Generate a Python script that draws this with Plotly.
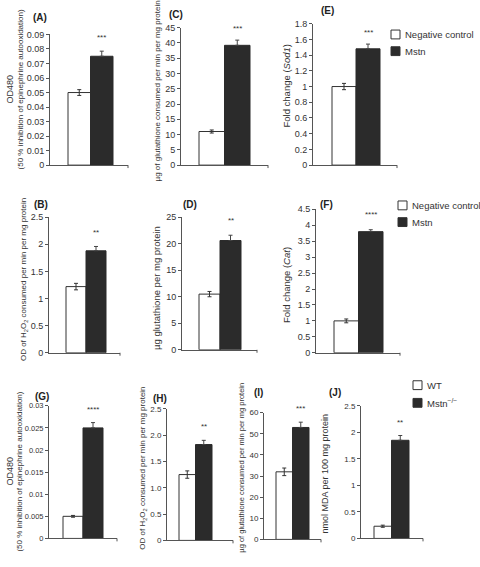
import plotly.graph_objects as go

# ---------------- data ----------------
panel_letters = ["A", "C", "E", "B", "D", "F", "G", "H", "I", "J"]
control_values = [0.050, 11.0, 1.00, 1.22, 10.5, 1.00, 0.0050, 1.25, 32.0, 0.23]
control_errors = [0.002, 0.5, 0.04, 0.06, 0.5, 0.06, 0.0002, 0.07, 1.8, 0.02]
treated_values = [0.075, 39.2, 1.48, 1.88, 20.6, 3.80, 0.0250, 1.82, 53.0, 1.85]
treated_errors = [0.0035, 1.7, 0.06, 0.08, 1.0, 0.06, 0.0012, 0.08, 2.5, 0.09]
significance = ["***", "***", "***", "**", "**", "****", "****", "**", "***", "**"]
y_max = [0.09, 45, 1.8, 2.5, 25, 4.5, 0.03, 2.5, 60, 2.5]
y_dtick = [0.01, 5, 0.2, 0.5, 5, 0.5, 0.005, 0.5, 10, 0.5]
h_tick_text = ["0", "0.5", "1.0", "1.5", "2.0", "2.5"]
y_titles = [
    None,
    "µg of glutathione consumed per min per mg protein",
    "Fold change (<i>Sod1</i>)",
    "OD of H<sub>2</sub>O<sub>2</sub> consumed per min per mg protein",
    "µg glutathione per mg protein",
    "Fold change (<i>Cat</i>)",
    None,
    "OD of H<sub>2</sub>O<sub>2</sub> consumed per min per mg protein",
    "µg of glutathione consumed per min per mg protein",
    "nmol MDA per 100 mg protein",
]
od_title_line1 = "OD480"
od_title_line2 = "(50 % inhibition of epinephrine autooxidation)"
legend_rows = [["Negative control", "Mstn"], ["Negative control", "Mstn"], ["WT", "Mstn<sup>−/−</sup>"]]

# ---------------- layout geometry (pixels) ----------------
W, H = 480, 567
geom = [
    dict(al=50, ar=128, t=30, b=163, bl=68, br=113, lab=(40, 13), tt=(15, 86, 8), st=33, fs=9),
    dict(al=181, ar=268, t=23, b=163, bl=199, br=250, lab=(176, 10), tt=(157, 88, 8), st=24, fs=9),
    dict(al=313, ar=397, t=19, b=163, bl=332, br=380, lab=(327, 6), tt=(287, 83, 9.5), st=28, fs=9),
    dict(al=49, ar=120, t=216, b=354, bl=66, br=106, lab=(41, 203), tt=(24, 280, 8), st=232, fs=9),
    dict(al=182, ar=257, t=216, b=351, bl=199, br=241, lab=(190, 203), tt=(157, 288, 9.5), st=219, fs=9),
    dict(al=316, ar=400, t=208, b=354, bl=334, br=383, lab=(326, 203), tt=(287, 285, 9.5), st=213, fs=9),
    dict(al=49, ar=117, t=408, b=543, bl=63, br=103, lab=(42, 399), tt=(15, 475, 8), st=412, fs=7.5),
    dict(al=167, ar=233, t=411, b=545, bl=179, br=212, lab=(160, 401), tt=(143, 472, 8), st=429, fs=8),
    dict(al=264, ar=321, t=415, b=544, bl=276, br=309, lab=(258, 394), tt=(242, 471, 7.5), st=411, fs=8),
    dict(al=361, ar=423, t=408, b=543, bl=374, br=409, lab=(335, 394), tt=(325, 477, 9), st=425, fs=8),
]
legend_geom = [(391, 30, 47), (398, 204, 221), (413, 387, 405)]

FONT = "Liberation Sans, Arial, sans-serif"
TXT = "#333333"
AX = "#555555"
DARK = "#2b2b2b"


def px(x):
    return x / W


def py(y):
    return 1 - y / H


fig = go.Figure()
annotations = []
shapes = []
layout_axes = {}

for i, letter in enumerate(panel_letters):
    g = geom[i]
    n = i + 1
    xa = "x" if n == 1 else f"x{n}"
    ya = "y" if n == 1 else f"y{n}"
    xkey = "xaxis" if n == 1 else f"xaxis{n}"
    ykey = "yaxis" if n == 1 else f"yaxis{n}"

    bw = (g["br"] - g["bl"]) / 2.0
    c0 = g["bl"] + bw / 2.0
    xr = [(g["al"] - c0) / bw, (g["ar"] - c0) / bw]

    fig.add_trace(go.Bar(
        x=[0], y=[control_values[i]], width=[1], xaxis=xa, yaxis=ya,
        marker=dict(color="white", line=dict(color="#333333", width=1)),
        error_y=dict(type="data", array=[control_errors[i]], arrayminus=[control_errors[i]],
                     color="#333333", thickness=1, width=2),
        showlegend=False, hoverinfo="skip",
    ))
    fig.add_trace(go.Bar(
        x=[1], y=[treated_values[i]], width=[1], xaxis=xa, yaxis=ya,
        marker=dict(color=DARK, line=dict(color=DARK, width=1)),
        error_y=dict(type="data", symmetric=False, array=[treated_errors[i]], arrayminus=[0],
                     color="#444444", thickness=1, width=2),
        showlegend=False, hoverinfo="skip",
    ))

    layout_axes[xkey] = dict(
        domain=[px(g["al"]), px(g["ar"])], range=xr, anchor=ya,
        showgrid=False, zeroline=False, showline=True, linecolor=AX, linewidth=1,
        ticks="", showticklabels=False, fixedrange=True,
    )
    yax = dict(
        domain=[py(g["b"]), py(g["t"])], range=[0, y_max[i]], anchor=xa,
        showgrid=False, zeroline=False, showline=True, linecolor=AX, linewidth=1,
        ticks="outside", ticklen=3, tickcolor=AX, dtick=y_dtick[i], tick0=0,
        tickfont=dict(family=FONT, size=g["fs"], color=TXT), fixedrange=True,
    )
    if letter == "H":
        yax["tickvals"] = [0, 0.5, 1.0, 1.5, 2.0, 2.5]
        yax["ticktext"] = h_tick_text
    layout_axes[ykey] = yax

    # small end tick on the category axis
    shapes.append(dict(type="line", xref="paper", yref="paper",
                       x0=px(g["ar"]), x1=px(g["ar"]), y0=py(g["b"]), y1=py(g["b"] + 3),
                       line=dict(color=AX, width=1)))

    annotations.append(dict(
        x=px(g["lab"][0]), y=py(g["lab"][1]), xref="paper", yref="paper",
        text=f"<b>({letter})</b>", showarrow=False, xanchor="center", yanchor="middle",
        font=dict(family=FONT, size=10, color="#222222"),
    ))
    annotations.append(dict(
        x=1, xref=xa, y=py(g["st"]), yref="paper", text=significance[i], showarrow=False,
        xanchor="center", yanchor="middle", font=dict(family=FONT, size=8, color=TXT),
    ))
    tx, ty, ts = g["tt"]
    if y_titles[i] is None:
        annotations.append(dict(
            x=px(tx - 5), y=py(ty), xref="paper", yref="paper", text=od_title_line1,
            showarrow=False, textangle=-90, xanchor="center", yanchor="middle",
            font=dict(family=FONT, size=ts + 1, color=TXT),
        ))
        annotations.append(dict(
            x=px(tx + 5), y=py(ty), xref="paper", yref="paper", text=od_title_line2,
            showarrow=False, textangle=-90, xanchor="center", yanchor="middle",
            font=dict(family=FONT, size=ts, color=TXT),
        ))
    else:
        annotations.append(dict(
            x=px(tx), y=py(ty), xref="paper", yref="paper", text=y_titles[i],
            showarrow=False, textangle=-90, xanchor="center", yanchor="middle",
            font=dict(family=FONT, size=ts, color=TXT),
        ))

# legends
for (lx, y1, y2), names in zip(legend_geom, legend_rows):
    for yy, name, fill in [(y1, names[0], "white"), (y2, names[1], DARK)]:
        shapes.append(dict(type="rect", xref="paper", yref="paper",
                           x0=px(lx), x1=px(lx + 9), y0=py(yy + 4.5), y1=py(yy - 4.5),
                           fillcolor=fill, line=dict(color="#333333", width=1)))
        annotations.append(dict(
            x=px(lx + 12), y=py(yy), xref="paper", yref="paper", text=name,
            showarrow=False, xanchor="left", yanchor="middle",
            font=dict(family=FONT, size=9.5, color=TXT),
        ))

fig.update_layout(
    width=W, height=H, margin=dict(l=0, r=0, t=0, b=0),
    paper_bgcolor="white", plot_bgcolor="white",
    barmode="overlay", showlegend=False,
    annotations=annotations, shapes=shapes,
    **layout_axes,
)

fig.write_html(
    "out.html",
    config={"displayModeBar": False, "staticPlot": True},
    post_script="document.body.style.margin='0';document.body.style.overflow='hidden';",
)
